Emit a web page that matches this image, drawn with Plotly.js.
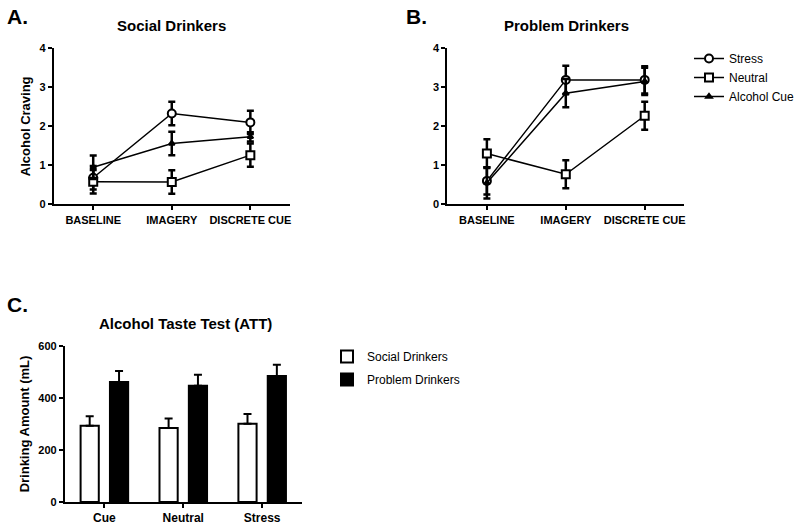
<!DOCTYPE html>
<html>
<head>
<meta charset="utf-8">
<script src="https://cdn.plot.ly/plotly-3.0.1.min.js"></script>
<style>html,body{margin:0;padding:0;background:#fff;}#chart{width:800px;height:524px;}</style>
</head>
<body>
<div id="chart"></div>
<script>
// Craving data (panels A and B)
const phases = ["BASELINE", "IMAGERY", "DISCRETE CUE"];
const socialStress = [0.68, 2.33, 2.10];
const socialStressErr = [0.30, 0.30, 0.30];
const socialNeutral = [0.58, 0.57, 1.26];
const socialNeutralErr = [0.30, 0.30, 0.30];
const socialCue = [0.95, 1.56, 1.73];
const socialCueErr = [0.30, 0.30, 0.12];

const problemStress = [0.60, 3.19, 3.19];
const problemStressErr = [0.35, 0.36, 0.35];
const problemNeutral = [1.30, 0.77, 2.27];
const problemNeutralErr = [0.37, 0.36, 0.36];
const problemCue = [0.55, 2.85, 3.15];
const problemCueErr = [0.40, 0.36, 0.35];

// Alcohol taste test (panel C)
const conditions = ["Cue", "Neutral", "Stress"];
const attSocial = [293, 285, 301];
const attSocialErr = [37, 36, 37];
const attProblem = [462, 447, 485];
const attProblemErr = [42, 42, 43];

const FONT = "Liberation Sans, Arial, sans-serif";
const K = "#000";

function lineTrace(x, y, err, name, symbol, fill, size, xa, ya, show) {
  return {
    type: "scatter", mode: "lines+markers", x: x, y: y, name: name,
    xaxis: xa, yaxis: ya, showlegend: show, legend: "legend",
    line: {color: K, width: 1.5},
    marker: {symbol: symbol, size: size, color: fill, line: {color: K, width: 2}},
    error_y: {type: "data", array: err, visible: true, color: K, thickness: 2.5, width: 3.5}
  };
}

const traces = [
  lineTrace(phases, socialStress, socialStressErr, "Stress", "circle", "#fff", 8, "x", "y", false),
  lineTrace(phases, socialNeutral, socialNeutralErr, "Neutral", "square", "#fff", 8, "x", "y", false),
  lineTrace(phases, socialCue, socialCueErr, "Alcohol Cue", "triangle-up", K, 5, "x", "y", false),
  lineTrace(phases, problemStress, problemStressErr, "Stress", "circle", "#fff", 8, "x2", "y2", true),
  lineTrace(phases, problemNeutral, problemNeutralErr, "Neutral", "square", "#fff", 8, "x2", "y2", true),
  lineTrace(phases, problemCue, problemCueErr, "Alcohol Cue", "triangle-up", K, 5, "x2", "y2", true),
  {
    type: "bar", x: conditions, y: attSocial, name: "Social Drinkers",
    xaxis: "x3", yaxis: "y3", legend: "legend2", legendgroup: "s",
    marker: {color: "#fff", line: {color: K, width: 2}},
    error_y: {type: "data", symmetric: false, array: attSocialErr, arrayminus: [0, 0, 0],
              color: K, thickness: 2, width: 4}
  },
  {
    type: "bar", x: conditions, y: attProblem, name: "Problem Drinkers",
    xaxis: "x3", yaxis: "y3", legend: "legend2", legendgroup: "p",
    marker: {color: K, line: {color: K, width: 2}},
    error_y: {type: "data", symmetric: false, array: attProblemErr, arrayminus: [0, 0, 0],
              color: K, thickness: 2, width: 4}
  }
];

function xAxis(domain, anchor, fs) {
  return {
    domain: domain, anchor: anchor, type: "category", range: [-0.5, 2.5],
    showline: true, linecolor: K, linewidth: 2, ticks: "outside", ticklen: 4, tickwidth: 2,
    tickcolor: K, showgrid: false, zeroline: false, fixedrange: true,
    tickfont: {family: FONT, size: fs, color: K, weight: "bold"}
  };
}
function yAxis(domain, anchor, range, dtick, title) {
  return {
    domain: domain, anchor: anchor, range: range, dtick: dtick,
    showline: true, linecolor: K, linewidth: 2, ticks: "outside", ticklen: 4, tickwidth: 2,
    tickcolor: K, showgrid: false, zeroline: false, fixedrange: true,
    tickfont: {family: FONT, size: 11, color: K, weight: "bold"},
    title: {text: title, standoff: 6, font: {family: FONT, size: 13, color: K, weight: "bold"}}
  };
}

const yTopDom = [1 - 204.3 / 524, 1 - 48.3 / 524];
const yBotDom = [1 - 502 / 524, 1 - 346 / 524];

function ann(text, x, y, size, xanchor) {
  return {text: text, x: x / 800, y: 1 - y / 524, xref: "paper", yref: "paper",
          xanchor: xanchor || "center", yanchor: "middle", showarrow: false,
          font: {family: FONT, size: size, color: K, weight: "bold"}};
}

const layout = {
  width: 800, height: 524,
  margin: {l: 0, r: 0, t: 0, b: 0},
  paper_bgcolor: "#fff", plot_bgcolor: "#fff",
  showlegend: true,
  barmode: "group", bargap: 0.256, bargroupgap: 0.38,
  xaxis: xAxis([54 / 800, 290 / 800], "y", 11),
  yaxis: yAxis(yTopDom, "x", [0, 4], 1, "Alcohol Craving"),
  xaxis2: xAxis([448 / 800, 685 / 800], "y2", 11),
  yaxis2: yAxis(yTopDom, "x2", [0, 4], 1, ""),
  xaxis3: xAxis([65 / 800, 302 / 800], "y3", 12),
  yaxis3: yAxis(yBotDom, "x3", [0, 600], 200, "Drinking Amount (mL)"),
  legend: {x: 690 / 800, y: 1 - 44 / 524, xanchor: "left", yanchor: "top",
           font: {family: FONT, size: 12, color: K}, itemwidth: 30, bgcolor: "rgba(0,0,0,0)"},
  legend2: {x: 327 / 800, y: 1 - 342 / 524, xanchor: "left", yanchor: "top",
            font: {family: FONT, size: 12, color: K}, itemwidth: 30, tracegroupgap: 4,
            bgcolor: "rgba(0,0,0,0)"},
  annotations: [
    ann("A.", 5, 16, 21, "left"),
    ann("B.", 405, 16, 21, "left"),
    ann("C.", 5, 304, 21, "left"),
    ann("Social Drinkers", 172, 25, 15),
    ann("Problem Drinkers", 567, 25, 15),
    ann("Alcohol Taste Test (ATT)", 186, 323, 15)
  ]
};

Plotly.newPlot("chart", traces, layout, {displayModeBar: false, staticPlot: true});
</script>
</body>
</html>
